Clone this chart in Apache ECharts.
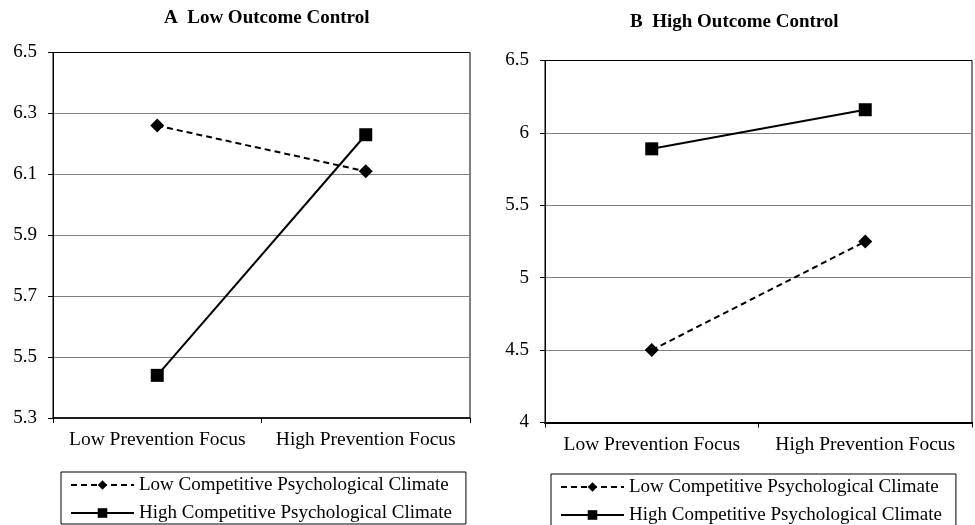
<!DOCTYPE html>
<html>
<head>
<meta charset="utf-8">
<script src="https://cdn.jsdelivr.net/npm/echarts@6/dist/echarts.min.js"></script>
<style>
  html, body { margin: 0; padding: 0; background: #fff; }
  #chart { width: 975px; height: 525px; }
</style>
</head>
<body>
<div id="chart"></div>
<script>
// Interaction plots: prevention focus x competitive climate, by outcome control
const categories = ['Low Prevention Focus', 'High Prevention Focus'];
const seriesNames = ['Low Competitive Psychological Climate', 'High Competitive Psychological Climate'];
const panelTitles = ['A  Low Outcome Control', 'B  High Outcome Control'];

// Panel A (low outcome control)
const lowClimateA = [6.26, 6.11];
const highClimateA = [5.44, 6.23];
const yTicksA = [5.3, 5.5, 5.7, 5.9, 6.1, 6.3, 6.5];

// Panel B (high outcome control)
const lowClimateB = [4.50, 5.25];
const highClimateB = [5.89, 6.16];
const yTicksB = [4, 4.5, 5, 5.5, 6, 6.5];

const FONT = 'Liberation Serif';
const GRID_LINE = '#808080';

function yAxisFor(ticks, gridIndex, decimals) {
  return {
    type: 'value',
    gridIndex: gridIndex,
    min: ticks[0],
    max: ticks[ticks.length - 1],
    interval: ticks[1] - ticks[0],
    axisLine: { show: true, lineStyle: { color: '#000', width: 1 } },
    axisTick: { show: true, length: 5, lineStyle: { color: '#000' } },
    axisLabel: {
      margin: 16,
      color: '#000',
      fontFamily: FONT,
      fontSize: 19,
      formatter: v => decimals ? v.toFixed(decimals) : String(+v.toFixed(2))
    },
    splitLine: {
      show: true,
      showMinLine: false,
      showMaxLine: false,
      lineStyle: { color: GRID_LINE, width: 1 }
    }
  };
}

function xAxisFor(gridIndex, lineWidth) {
  return {
    type: 'category',
    gridIndex: gridIndex,
    data: categories,
    boundaryGap: true,
    axisLine: { show: true, lineStyle: { color: '#000', width: lineWidth } },
    axisTick: { show: true, length: 5, lineStyle: { color: '#000' } },
    axisLabel: { interval: 0, margin: 12, color: '#000', fontFamily: FONT, fontSize: 19.5 },
    splitLine: { show: false }
  };
}

function lowSeries(data, idx) {
  return {
    name: seriesNames[0],
    type: 'line',
    xAxisIndex: idx,
    yAxisIndex: idx,
    data: data,
    symbol: 'diamond',
    symbolSize: 14,
    itemStyle: { color: '#000' },
    lineStyle: { color: '#000', width: 2, type: [6, 4] },
    animation: false,
    z: 3
  };
}

function highSeries(data, idx) {
  return {
    name: seriesNames[1],
    type: 'line',
    xAxisIndex: idx,
    yAxisIndex: idx,
    data: data,
    symbol: 'rect',
    symbolSize: 13,
    itemStyle: { color: '#000' },
    lineStyle: { color: '#000', width: 2, type: 'solid' },
    animation: false,
    z: 4
  };
}

function legendAt(left, top) {
  return {
    orient: 'vertical',
    left: left,
    top: top,
    height: 80,
    data: seriesNames,
    selectedMode: false,
    itemWidth: 63,
    itemHeight: 12,
    itemGap: 8,
    padding: [3, 14, 1, 9],
    borderColor: '#000',
    borderWidth: 1,
    textStyle: { color: '#000', fontFamily: FONT, fontSize: 19, lineHeight: 20 }
  };
}

const option = {
  backgroundColor: '#fff',
  animation: false,
  title: [
    {
      text: panelTitles[0],
      left: 164, top: 9, padding: 0,
      textStyle: { color: '#000', fontFamily: FONT, fontSize: 19, fontWeight: 'bold' }
    },
    {
      text: panelTitles[1],
      left: 630, top: 13, padding: 0,
      textStyle: { color: '#000', fontFamily: FONT, fontSize: 19, fontWeight: 'bold' }
    }
  ],
  grid: [
    { left: 53, right: 505, top: 52.5, bottom: 107, show: true, borderColor: '#000', borderWidth: 1, backgroundColor: '#fff' },
    { left: 545, right: 3, top: 60.5, bottom: 102.5, show: true, borderColor: '#000', borderWidth: 1, backgroundColor: '#fff' }
  ],
  xAxis: [xAxisFor(0, 1.5), xAxisFor(1, 2)],
  yAxis: [yAxisFor(yTicksA, 0, 1), yAxisFor(yTicksB, 1, 0)],
  legend: [legendAt(61, 472), legendAt(551, 474)],
  series: [
    lowSeries(lowClimateA, 0),
    highSeries(highClimateA, 0),
    lowSeries(lowClimateB, 1),
    highSeries(highClimateB, 1)
  ]
};

const chart = echarts.init(document.getElementById('chart'), null, { renderer: 'canvas' });
chart.setOption(option);
</script>
</body>
</html>
